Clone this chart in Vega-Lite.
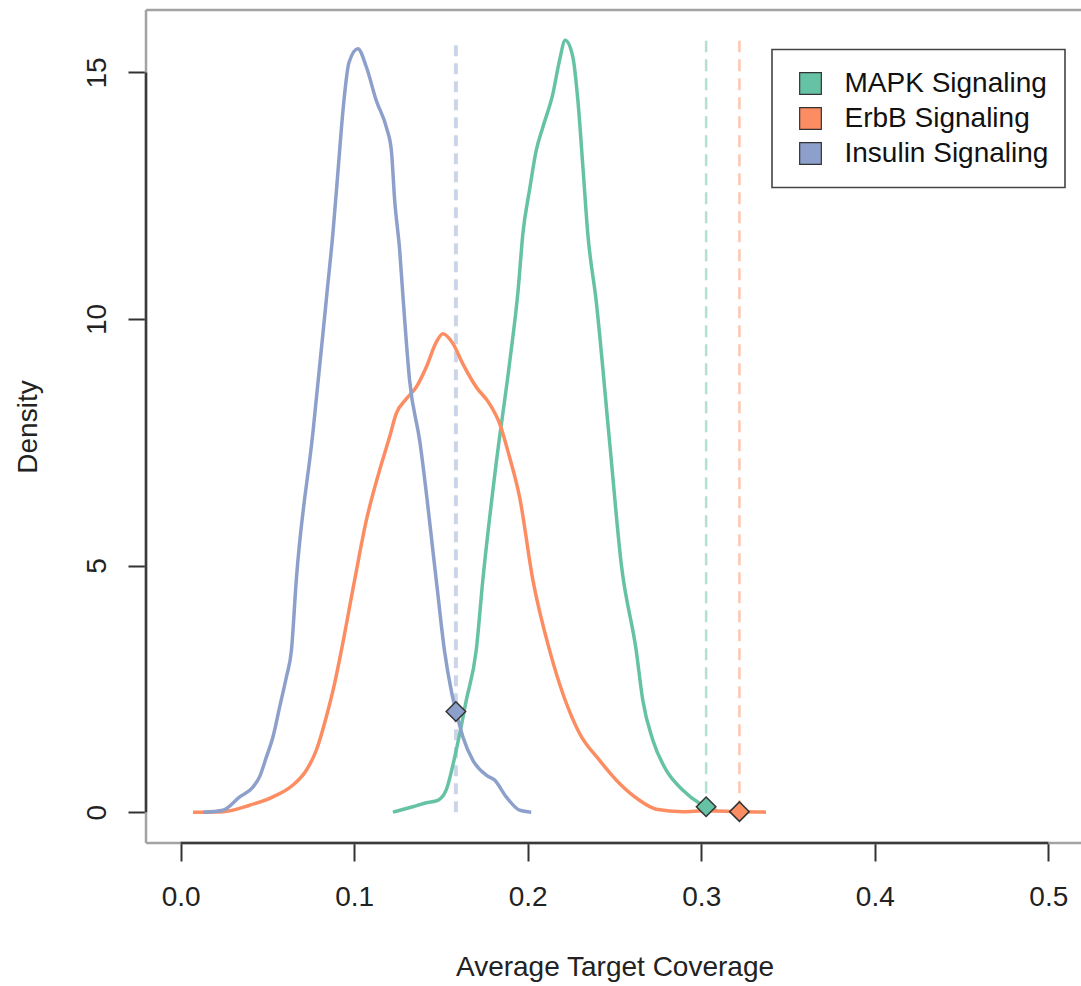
{
  "$schema": "https://vega.github.io/schema/vega-lite/v6.json",
  "width": 937,
  "height": 833,
  "autosize": "none",
  "padding": {"left": 146, "top": 10, "right": 0, "bottom": 143},
  "background": "white",
  "config": {
    "font": "Liberation Sans",
    "view": {"stroke": null},
    "legend": {"strokeWidth": 1.6}
  },
  "datasets": {
    "curves": [
      {"series": "MAPK Signaling", "x": 0.1223, "y": 0},
      {"series": "MAPK Signaling", "x": 0.1338, "y": 0.11},
      {"series": "MAPK Signaling", "x": 0.1415, "y": 0.19},
      {"series": "MAPK Signaling", "x": 0.1482, "y": 0.24},
      {"series": "MAPK Signaling", "x": 0.153, "y": 0.45},
      {"series": "MAPK Signaling", "x": 0.1588, "y": 1.26},
      {"series": "MAPK Signaling", "x": 0.1646, "y": 2.27},
      {"series": "MAPK Signaling", "x": 0.1703, "y": 3.28},
      {"series": "MAPK Signaling", "x": 0.1741, "y": 4.7},
      {"series": "MAPK Signaling", "x": 0.1818, "y": 7.07},
      {"series": "MAPK Signaling", "x": 0.1895, "y": 9.1},
      {"series": "MAPK Signaling", "x": 0.1945, "y": 10.6},
      {"series": "MAPK Signaling", "x": 0.1972, "y": 11.73},
      {"series": "MAPK Signaling", "x": 0.201, "y": 12.61},
      {"series": "MAPK Signaling", "x": 0.2049, "y": 13.42},
      {"series": "MAPK Signaling", "x": 0.2087, "y": 13.89},
      {"series": "MAPK Signaling", "x": 0.2145, "y": 14.57},
      {"series": "MAPK Signaling", "x": 0.2183, "y": 15.24},
      {"series": "MAPK Signaling", "x": 0.2216, "y": 15.65},
      {"series": "MAPK Signaling", "x": 0.226, "y": 15.31},
      {"series": "MAPK Signaling", "x": 0.2289, "y": 14.43},
      {"series": "MAPK Signaling", "x": 0.2318, "y": 13.08},
      {"series": "MAPK Signaling", "x": 0.2346, "y": 11.73},
      {"series": "MAPK Signaling", "x": 0.2394, "y": 10.38},
      {"series": "MAPK Signaling", "x": 0.2471, "y": 7.54},
      {"series": "MAPK Signaling", "x": 0.254, "y": 5.0},
      {"series": "MAPK Signaling", "x": 0.2625, "y": 3.28},
      {"series": "MAPK Signaling", "x": 0.2663, "y": 2.27},
      {"series": "MAPK Signaling", "x": 0.2721, "y": 1.46},
      {"series": "MAPK Signaling", "x": 0.2798, "y": 0.85},
      {"series": "MAPK Signaling", "x": 0.2893, "y": 0.45},
      {"series": "MAPK Signaling", "x": 0.299, "y": 0.18},
      {"series": "MAPK Signaling", "x": 0.3028, "y": 0.11},
      {"series": "MAPK Signaling", "x": 0.309, "y": 0.03},

      {"series": "ErbB Signaling", "x": 0.0071, "y": 0},
      {"series": "ErbB Signaling", "x": 0.0244, "y": 0.01},
      {"series": "ErbB Signaling", "x": 0.0397, "y": 0.14},
      {"series": "ErbB Signaling", "x": 0.0532, "y": 0.31},
      {"series": "ErbB Signaling", "x": 0.0647, "y": 0.55},
      {"series": "ErbB Signaling", "x": 0.0724, "y": 0.85},
      {"series": "ErbB Signaling", "x": 0.0782, "y": 1.26},
      {"series": "ErbB Signaling", "x": 0.0839, "y": 1.93},
      {"series": "ErbB Signaling", "x": 0.0887, "y": 2.61},
      {"series": "ErbB Signaling", "x": 0.0926, "y": 3.28},
      {"series": "ErbB Signaling", "x": 0.1002, "y": 4.7},
      {"series": "ErbB Signaling", "x": 0.107, "y": 5.92},
      {"series": "ErbB Signaling", "x": 0.1146, "y": 6.93},
      {"series": "ErbB Signaling", "x": 0.1204, "y": 7.61},
      {"series": "ErbB Signaling", "x": 0.1242, "y": 8.08},
      {"series": "ErbB Signaling", "x": 0.13, "y": 8.38},
      {"series": "ErbB Signaling", "x": 0.1358, "y": 8.62},
      {"series": "ErbB Signaling", "x": 0.1415, "y": 9.02},
      {"series": "ErbB Signaling", "x": 0.1473, "y": 9.53},
      {"series": "ErbB Signaling", "x": 0.1511, "y": 9.7},
      {"series": "ErbB Signaling", "x": 0.1569, "y": 9.5},
      {"series": "ErbB Signaling", "x": 0.1626, "y": 9.09},
      {"series": "ErbB Signaling", "x": 0.1703, "y": 8.62},
      {"series": "ErbB Signaling", "x": 0.178, "y": 8.28},
      {"series": "ErbB Signaling", "x": 0.1838, "y": 7.88},
      {"series": "ErbB Signaling", "x": 0.1895, "y": 7.2},
      {"series": "ErbB Signaling", "x": 0.1953, "y": 6.39},
      {"series": "ErbB Signaling", "x": 0.203, "y": 4.7},
      {"series": "ErbB Signaling", "x": 0.2126, "y": 3.28},
      {"series": "ErbB Signaling", "x": 0.2298, "y": 1.6},
      {"series": "ErbB Signaling", "x": 0.2414, "y": 1.05},
      {"series": "ErbB Signaling", "x": 0.2529, "y": 0.58},
      {"series": "ErbB Signaling", "x": 0.2644, "y": 0.24},
      {"series": "ErbB Signaling", "x": 0.274, "y": 0.06},
      {"series": "ErbB Signaling", "x": 0.2893, "y": 0.01},
      {"series": "ErbB Signaling", "x": 0.3028, "y": 0.03},
      {"series": "ErbB Signaling", "x": 0.322, "y": 0.01},
      {"series": "ErbB Signaling", "x": 0.3373, "y": 0},

      {"series": "Insulin Signaling", "x": 0.0129, "y": 0},
      {"series": "Insulin Signaling", "x": 0.0244, "y": 0.04},
      {"series": "Insulin Signaling", "x": 0.034, "y": 0.31},
      {"series": "Insulin Signaling", "x": 0.0417, "y": 0.51},
      {"series": "Insulin Signaling", "x": 0.0455, "y": 0.72},
      {"series": "Insulin Signaling", "x": 0.0494, "y": 1.12},
      {"series": "Insulin Signaling", "x": 0.0532, "y": 1.53},
      {"series": "Insulin Signaling", "x": 0.057, "y": 2.13},
      {"series": "Insulin Signaling", "x": 0.0609, "y": 2.74},
      {"series": "Insulin Signaling", "x": 0.0638, "y": 3.28},
      {"series": "Insulin Signaling", "x": 0.0666, "y": 4.7},
      {"series": "Insulin Signaling", "x": 0.0762, "y": 7.7},
      {"series": "Insulin Signaling", "x": 0.0845, "y": 10.6},
      {"series": "Insulin Signaling", "x": 0.0877, "y": 11.73},
      {"series": "Insulin Signaling", "x": 0.0916, "y": 13.42},
      {"series": "Insulin Signaling", "x": 0.0935, "y": 14.22},
      {"series": "Insulin Signaling", "x": 0.097, "y": 15.2},
      {"series": "Insulin Signaling", "x": 0.1021, "y": 15.48},
      {"series": "Insulin Signaling", "x": 0.107, "y": 15.11},
      {"series": "Insulin Signaling", "x": 0.1127, "y": 14.43},
      {"series": "Insulin Signaling", "x": 0.1185, "y": 13.89},
      {"series": "Insulin Signaling", "x": 0.1214, "y": 13.42},
      {"series": "Insulin Signaling", "x": 0.1233, "y": 12.41},
      {"series": "Insulin Signaling", "x": 0.1262, "y": 11.39},
      {"series": "Insulin Signaling", "x": 0.1278, "y": 10.6},
      {"series": "Insulin Signaling", "x": 0.1319, "y": 8.76},
      {"series": "Insulin Signaling", "x": 0.1377, "y": 7.54},
      {"series": "Insulin Signaling", "x": 0.1473, "y": 4.7},
      {"series": "Insulin Signaling", "x": 0.152, "y": 3.28},
      {"series": "Insulin Signaling", "x": 0.1559, "y": 2.47},
      {"series": "Insulin Signaling", "x": 0.1588, "y": 2.03},
      {"series": "Insulin Signaling", "x": 0.1626, "y": 1.53},
      {"series": "Insulin Signaling", "x": 0.1684, "y": 1.05},
      {"series": "Insulin Signaling", "x": 0.1761, "y": 0.75},
      {"series": "Insulin Signaling", "x": 0.1809, "y": 0.65},
      {"series": "Insulin Signaling", "x": 0.1876, "y": 0.31},
      {"series": "Insulin Signaling", "x": 0.1953, "y": 0.04},
      {"series": "Insulin Signaling", "x": 0.202, "y": 0}
    ],
    "markers": [
      {"series": "MAPK Signaling", "x": 0.3028, "y": 0.11},
      {"series": "ErbB Signaling", "x": 0.322, "y": 0.01},
      {"series": "Insulin Signaling", "x": 0.1586, "y": 2.04}
    ]
  },
  "layer": [
    {
      "data": {"values": [{}]},
      "mark": {"type": "rule", "color": "#a3a3a3", "strokeWidth": 2.5},
      "encoding": {
        "x": {"datum": -0.02, "type": "quantitative", "scale": {"domain": [-0.02, 0.52], "nice": false, "zero": false}},
        "x2": {"datum": 0.52},
        "y": {"datum": 16.2656, "type": "quantitative", "scale": {"domain": [-0.6256, 16.2656], "nice": false, "zero": false}}
      }
    },
    {
      "data": {"values": [{}]},
      "mark": {"type": "rule", "color": "#a3a3a3", "strokeWidth": 2.5},
      "encoding": {
        "x": {"datum": -0.02, "type": "quantitative"},
        "x2": {"datum": 0.52},
        "y": {"datum": -0.6256, "type": "quantitative"}
      }
    },
    {
      "data": {"values": [{}]},
      "mark": {"type": "rule", "color": "#a3a3a3", "strokeWidth": 2.5},
      "encoding": {
        "x": {"datum": -0.02, "type": "quantitative"},
        "y": {"datum": -0.6256, "type": "quantitative"},
        "y2": {"datum": 16.2656}
      }
    },
    {
      "data": {"values": [{}]},
      "mark": {"type": "rule", "color": "#3a3a3a", "strokeWidth": 2.5},
      "encoding": {
        "x": {"datum": 0, "type": "quantitative"},
        "x2": {"datum": 0.5},
        "y": {"datum": -0.6256, "type": "quantitative"}
      }
    },
    {
      "data": {"values": [{}]},
      "mark": {"type": "rule", "color": "#3a3a3a", "strokeWidth": 2.5},
      "encoding": {
        "x": {"datum": -0.02, "type": "quantitative"},
        "y": {"datum": 0, "type": "quantitative"},
        "y2": {"datum": 15}
      }
    },
    {
      "data": {"name": "markers"},
      "transform": [{"filter": "datum.series === 'Insulin Signaling'"}],
      "mark": {"type": "rule", "color": "#8da0cb", "strokeWidth": 4, "strokeDash": [11, 7], "opacity": 0.45},
      "encoding": {
        "x": {"field": "x", "type": "quantitative"},
        "y": {"datum": 0, "type": "quantitative"},
        "y2": {"datum": 15.64}
      }
    },
    {
      "data": {"name": "markers"},
      "transform": [{"filter": "datum.series === 'MAPK Signaling'"}],
      "mark": {"type": "rule", "color": "#66c2a5", "strokeWidth": 2.5, "strokeDash": [12, 7], "opacity": 0.5},
      "encoding": {
        "x": {"field": "x", "type": "quantitative"},
        "y": {"datum": 0, "type": "quantitative"},
        "y2": {"datum": 15.64}
      }
    },
    {
      "data": {"name": "markers"},
      "transform": [{"filter": "datum.series === 'ErbB Signaling'"}],
      "mark": {"type": "rule", "color": "#fc8d62", "strokeWidth": 2.5, "strokeDash": [12, 7], "opacity": 0.5},
      "encoding": {
        "x": {"field": "x", "type": "quantitative"},
        "y": {"datum": 0, "type": "quantitative"},
        "y2": {"datum": 15.64}
      }
    },
    {
      "data": {"name": "curves"},
      "transform": [{"filter": "datum.series === 'MAPK Signaling'"}],
      "mark": {"type": "line", "color": "#66c2a5", "strokeWidth": 3.5, "interpolate": "monotone"},
      "encoding": {
        "x": {
          "field": "x", "type": "quantitative",
          "axis": {
            "values": [0, 0.1, 0.2, 0.3, 0.4, 0.5], "format": ".1f", "grid": false, "domain": false,
            "tickColor": "#333", "tickWidth": 2, "tickSize": 18,
            "labelFontSize": 28, "labelColor": "#222", "labelPadding": 22, "labelFlush": false,
            "title": "Average Target Coverage", "titleFontSize": 28, "titleFontWeight": "normal", "titleColor": "#222",
            "titleBaseline": "top", "titleY": 110
          }
        },
        "y": {
          "field": "y", "type": "quantitative",
          "axis": {
            "values": [0, 5, 10, 15], "grid": false, "domain": false,
            "tickColor": "#333", "tickWidth": 2, "tickSize": 18,
            "labelFontSize": 28, "labelColor": "#222", "labelPadding": 17, "labelAngle": 270,
            "labelAlign": "center", "labelBaseline": "bottom", "labelFlush": false,
            "title": "Density", "titleFontSize": 28, "titleFontWeight": "normal", "titleColor": "#222",
            "titleAngle": 270, "titleBaseline": "bottom", "titleAlign": "center", "titleX": -104, "titleY": 416.5
          }
        }
      }
    },
    {
      "data": {"name": "curves"},
      "transform": [{"filter": "datum.series === 'ErbB Signaling'"}],
      "mark": {"type": "line", "color": "#fc8d62", "strokeWidth": 3.5, "interpolate": "monotone"},
      "encoding": {
        "x": {"field": "x", "type": "quantitative"},
        "y": {"field": "y", "type": "quantitative"}
      }
    },
    {
      "data": {"name": "curves"},
      "transform": [{"filter": "datum.series === 'Insulin Signaling'"}],
      "mark": {"type": "line", "color": "#8da0cb", "strokeWidth": 3.5, "interpolate": "monotone"},
      "encoding": {
        "x": {"field": "x", "type": "quantitative"},
        "y": {"field": "y", "type": "quantitative"}
      }
    },
    {
      "data": {"name": "markers"},
      "mark": {"type": "point", "shape": "diamond", "filled": true, "size": 380, "stroke": "#333", "strokeWidth": 1.5, "opacity": 1},
      "encoding": {
        "x": {"field": "x", "type": "quantitative"},
        "y": {"field": "y", "type": "quantitative"},
        "fill": {
          "field": "series", "type": "nominal",
          "scale": {"domain": ["MAPK Signaling", "ErbB Signaling", "Insulin Signaling"], "range": ["#66c2a5", "#fc8d62", "#8da0cb"]},
          "legend": {
            "orient": "none", "legendX": 626, "legendY": 39.5, "title": null,
            "symbolType": "square", "symbolSize": 470, "symbolStrokeColor": "#333", "symbolStrokeWidth": 1.2,
            "symbolOffset": 8, "labelOffset": 20, "labelFontSize": 28, "labelColor": "#111", "labelFont": "Liberation Sans",
            "clipHeight": 35, "rowPadding": 0, "padding": 16.5, "strokeColor": "#444", "labelLimit": 400
          }
        }
      }
    }
  ]
}
